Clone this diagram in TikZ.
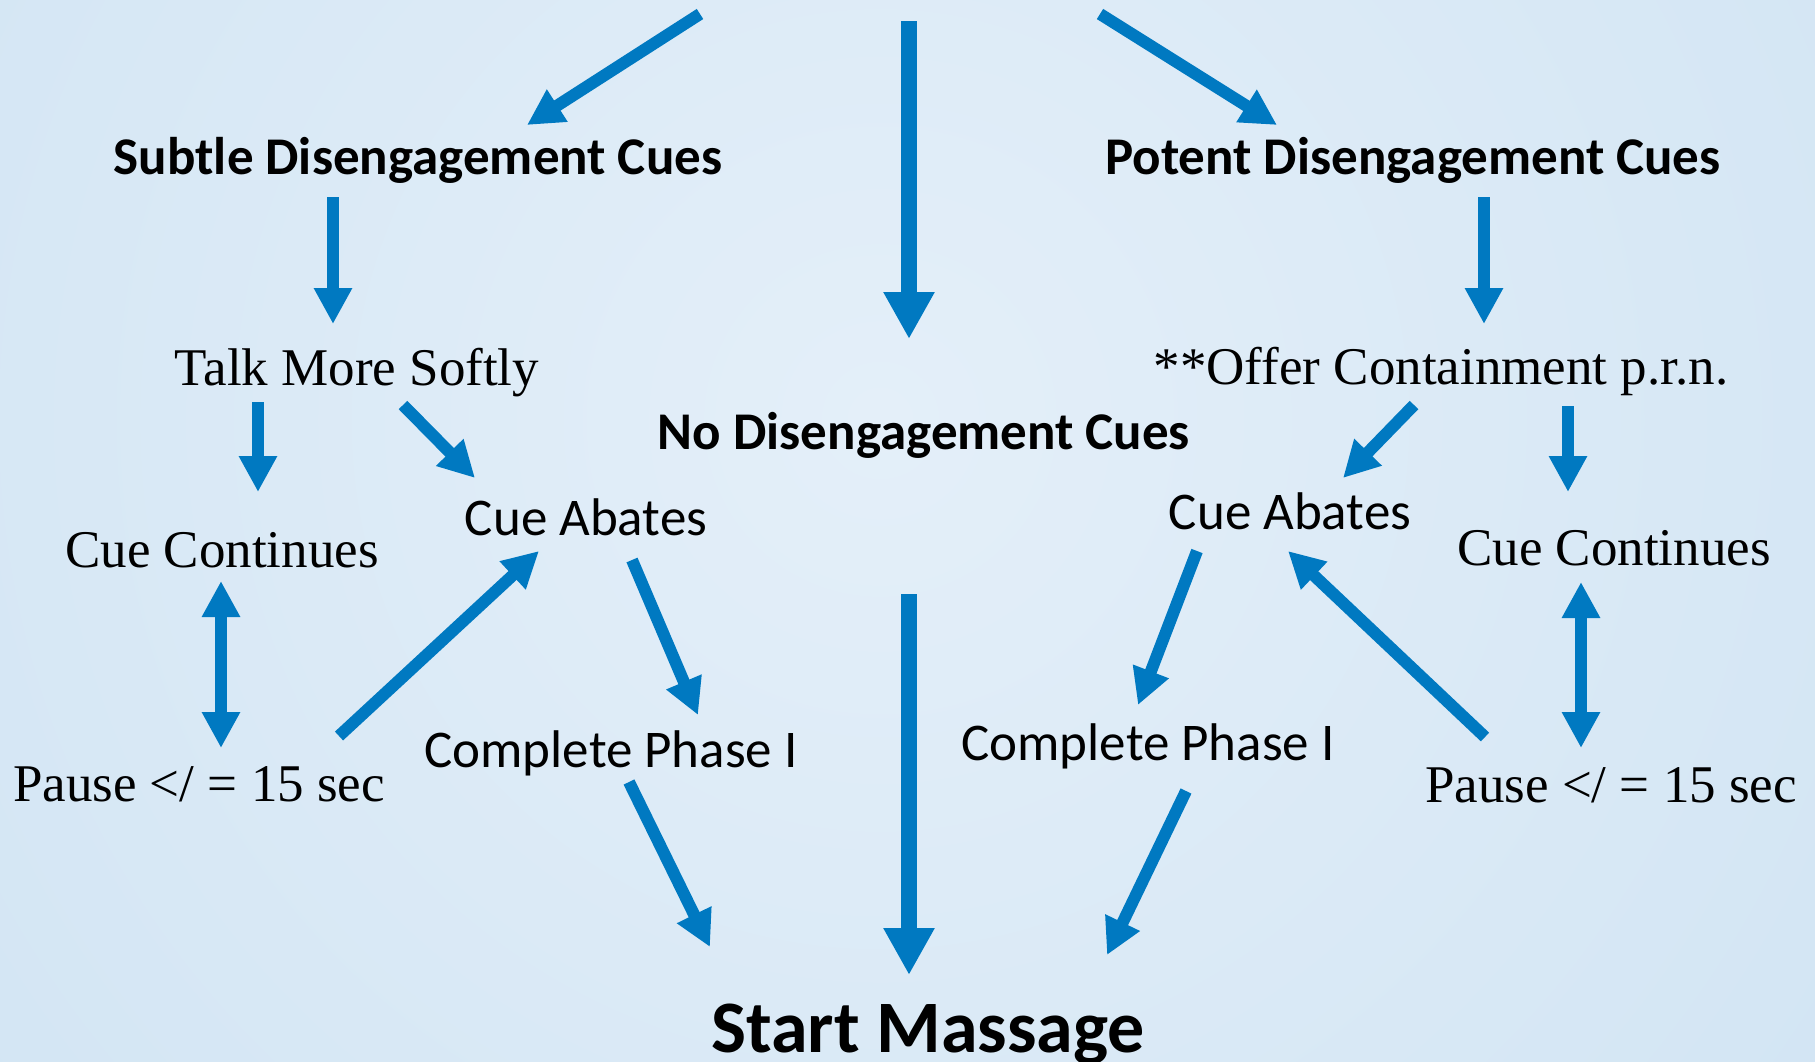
\documentclass[tikz,border=0pt]{standalone}
\usepackage{fontspec}
\setmainfont{Liberation Serif}
\newfontfamily\cali{Carlito}
\usepackage{tikz}
\usetikzlibrary{calc,arrows.meta}
\definecolor{arrowblue}{RGB}{0,121,193}
\definecolor{bgin}{RGB}{228,239,249}
\definecolor{bgmid}{RGB}{212,230,244}
\definecolor{bgrim}{RGB}{199,221,241}
\definecolor{bgout}{RGB}{195,219,240}
\pgfdeclareradialshading{bgglow}{\pgfpoint{0bp}{0bp}}{color(0bp)=(bgin); color(23bp)=(bgmid); color(39bp)=(bgrim); color(50bp)=(bgout)}
\newcommand{\tipsize}{36pt}
\newcommand{\txtsize}{\fontsize{53}{60}\selectfont}

\begin{document}
\begin{tikzpicture}[x=1pt,y=-1pt,
    lbl/.style={anchor=base, inner sep=0pt, font=\txtsize},
    sanslbl/.style={lbl, font=\cali\txtsize},
    cue/.style={lbl, font=\cali\bfseries\txtsize},
    arr/.style={draw=arrowblue, line width=12pt, -{Triangle[width=\tipsize,length=\tipsize]}},
    dblarr/.style={arr, {Triangle[width=\tipsize,length=\tipsize]}-{Triangle[width=\tipsize,length=\tipsize]}},
    bigarr/.style={draw=arrowblue, line width=16pt, -{Triangle[width=48pt,length=47pt]}}]
      \useasboundingbox (0,0) rectangle (1815,1061);
      % background
      \begin{scope}
        \clip (0,0) rectangle (1815,1061);
        \fill[bgout] (0,0) rectangle (1815,1061);
        \shade[shading=bgglow] (880,420) circle[radius=1150];
      \end{scope}

      % cue levels
      \node (sdc) at (418,174) [cue] {Subtle Disengagement Cues};
      \node (pdc) at (1413,174) [cue] {Potent Disengagement Cues};
      \node (ndc) at (924,449) [cue] {No Disengagement Cues};
      \node (start) at (928,1052) [cue, font=\cali\bfseries\fontsize{74}{80}\selectfont] {Start Massage};

      % left branch
      \node (tms) at (357,385) [lbl] {Talk More Softly};
      \node (ccl) at (222,567) [lbl] {Cue Continues};
      \node (cal) at (586,535) [sanslbl] {Cue Abates};
      \node (pl) at (199,801) [lbl] {Pause </ = 15 sec};
      \node (cpl) at (611,767) [sanslbl] {Complete Phase I};

      % right branch
      \node (ocp) at (1441,384) [lbl] {**Offer Containment p.r.n.};
      \node (car) at (1290,529) [sanslbl] {Cue Abates};
      \node (ccr) at (1614,565) [lbl] {Cue Continues};
      \node (cpr) at (1148,760) [sanslbl] {Complete Phase I};
      \node (pr) at (1611,802) [lbl] {Pause </ = 15 sec};

      % top arrows
      \coordinate (top1) at (700,14);
      \coordinate (top2) at (909,21);
      \coordinate (top3) at (1100,14);
      \draw[arr] (top1) -- ($(sdc.base)+(109,-49)$);
      \draw[bigarr] (top2) -- ($(ndc.base)+(-15,-110)$);
      \draw[arr] (top3) -- ($(pdc.base)+(-136,-49)$);

      \draw[arr] ($(sdc.base)+(-85,23)$) -- ($(tms.base)+(-24,-61)$);
      \draw[arr] ($(tms.base)+(-99,17)$) -- ($(ccl.base)+(36,-75)$);
      \draw[arr] ($(tms.base)+(46,20)$) -- ($(cal.base)+(-111,-57)$);
      \draw[dblarr] ($(ccl.base)+(-1,14)$) -- ($(pl.base)+(22,-53)$);
      \draw[arr] ($(pl.base)+(140,-65)$) -- ($(cal.base)+(-47,16)$);
      \draw[arr] ($(cal.base)+(46,25)$) -- ($(cpl.base)+(87,-52)$);
      \draw[arr] ($(cpl.base)+(18,15)$) -- ($(start.base)+(-218,-105)$);

      \draw[bigarr] ($(ndc.base)+(-15,145)$) -- ($(start.base)+(-19,-77)$);

      \draw[arr] ($(pdc.base)+(71,23)$) -- ($(ocp.base)+(43,-60)$);
      \draw[arr] ($(ocp.base)+(-27,21)$) -- ($(car.base)+(53,-51)$);
      \draw[arr] ($(ocp.base)+(127,22)$) -- ($(ccr.base)+(-46,-73)$);
      \draw[arr] ($(car.base)+(-93,22)$) -- ($(cpr.base)+(-10,-55)$);
      \draw[arr] ($(pr.base)+(-126,-65)$) -- ($(car.base)+(-2,22)$);
      \draw[dblarr] ($(ccr.base)+(-33,17)$) -- ($(pr.base)+(-30,-54)$);
      \draw[arr] ($(cpr.base)+(38,31)$) -- ($(start.base)+(179,-97)$);
\end{tikzpicture}
\end{document}
